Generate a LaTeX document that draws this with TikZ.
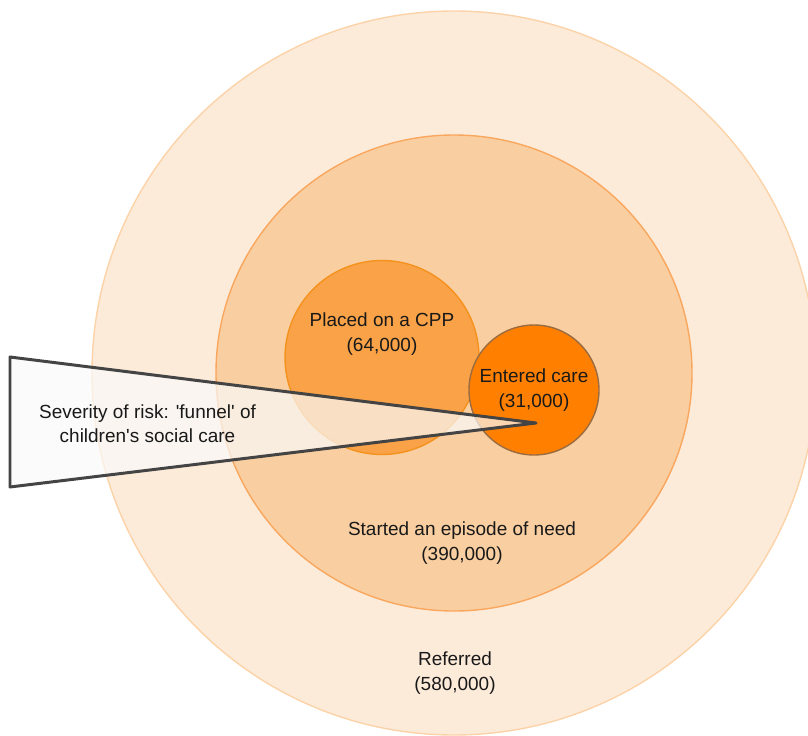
\documentclass[tikz,border=0pt]{standalone}
\usepackage{fontspec}
\setmainfont{Liberation Sans}
\definecolor{referredfill}{HTML}{FDEBDA}
\definecolor{referredline}{HTML}{FCD3A8}
\definecolor{needfill}{HTML}{F9CFA1}
\definecolor{needline}{HTML}{F9A75E}
\definecolor{cppfill}{HTML}{F9A248}
\definecolor{cppline}{HTML}{F5921E}
\definecolor{carefill}{HTML}{FF8000}
\definecolor{careline}{HTML}{9C6B3F}
\definecolor{funnelline}{HTML}{444444}
\begin{document}
\begin{tikzpicture}[every node/.style={font=\fontsize{10.8}{13.9}\selectfont, text=black!90, align=center},
  ring/.style={circle, inner sep=0pt, line width=0.8pt}]
  \clip (0,0) rectangle (16.16,-14.72);
  \node[ring, fill=referredfill, draw=referredline, minimum size=14.48cm] (referred) at (9.08,-7.46) {};
  \node[ring, fill=needfill, draw=needline, minimum size=9.52cm] (need) at (9.08,-7.46) {};
  \node[ring, fill=cppfill, draw=cppline, minimum size=3.88cm] (cpp) at (7.64,-7.15) {};
  \node[ring, fill=carefill, draw=careline, minimum size=2.60cm] (care) at (10.68,-7.8) {Entered care\\(31,000)};
  \coordinate (funneltop) at (0.2,-7.14);
  \coordinate (funneltip) at (10.72,-8.46);
  \coordinate (funnelbottom) at (0.2,-9.74);
  \draw[fill=black!2,fill opacity=0.7,draw=funnelline,line width=1.7pt,line join=round] (funneltop) -- (funneltip) -- (funnelbottom) -- cycle;
  \node (funnellabel) at (2.95,-8.47) {Severity of risk: \textquotesingle funnel\textquotesingle{} of\\children\textquotesingle s social care};
  \node (cpplabel) at (7.64,-6.68) {Placed on a CPP\\(64,000)};
  \node (needlabel) at (9.24,-10.86) {Started an episode of need\\(390,000)};
  \node (referredlabel) at (9.10,-13.46) {Referred\\(580,000)};
\end{tikzpicture}
\end{document}
